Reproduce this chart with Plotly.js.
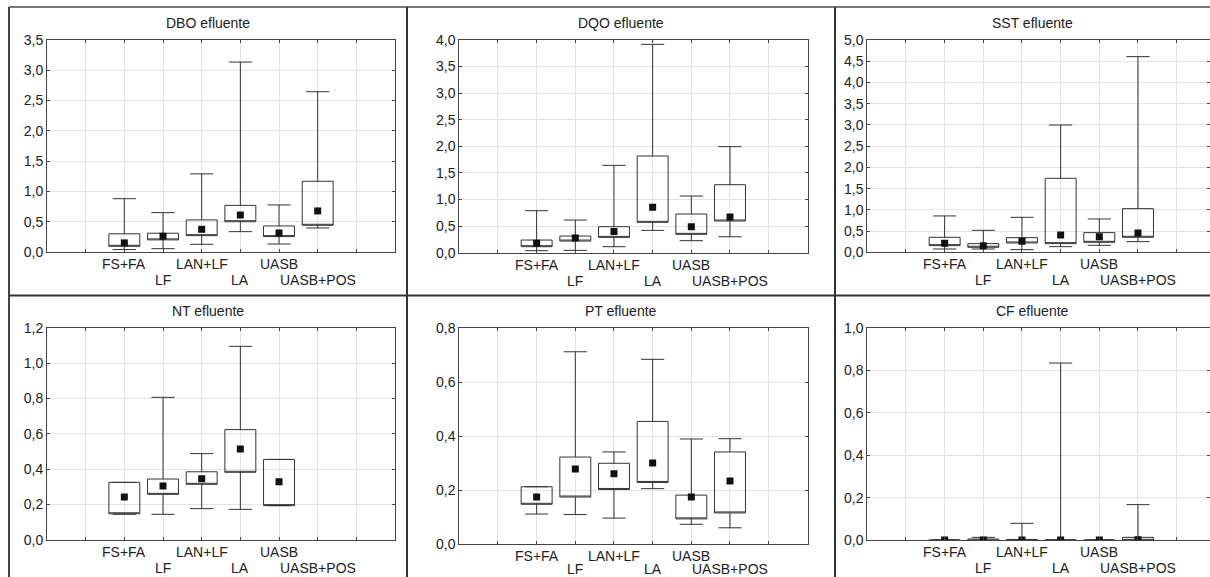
<!DOCTYPE html>
<html>
<head>
<meta charset="utf-8">
<script src="https://cdn.plot.ly/plotly-3.0.1.min.js"></script>
<style>
  html, body { margin: 0; padding: 0; background: #ffffff; }
  #chart { width: 1210px; height: 577px; }
</style>
</head>
<body>
<div id="chart"></div>
<script>
// ---------- DATA ----------
const categories = ['FS+FA', 'LF', 'LAN+LF', 'LA', 'UASB', 'UASB+POS'];

const panelTitles = ['DBO efluente', 'DQO efluente', 'SST efluente',
                     'NT efluente', 'PT efluente', 'CF efluente'];

// DBO efluente
const dboQ1  = [0.094, 0.200, 0.270, 0.500, 0.254, 0.441];
const dboQ3  = [0.300, 0.310, 0.530, 0.770, 0.430, 1.168];
const dboMed = [0.150, 0.260, 0.375, 0.610, 0.314, 0.678];
const dboMin = [0.040, 0.055, 0.127, 0.336, 0.132, 0.397];
const dboMax = [0.880, 0.650, 1.290, 3.136, 0.777, 2.646];

// DQO efluente
const dqoQ1  = [0.113, 0.219, 0.288, 0.571, 0.345, 0.596];
const dqoQ3  = [0.238, 0.313, 0.489, 1.818, 0.727, 1.279];
const dqoMed = [0.176, 0.276, 0.400, 0.853, 0.489, 0.671];
const dqoMin = [0.038, 0.044, 0.113, 0.420, 0.226, 0.300];
const dqoMax = [0.790, 0.614, 1.643, 3.918, 1.066, 1.994];

// SST efluente
const sstQ1  = [0.157, 0.118, 0.220, 0.204, 0.235, 0.353];
const sstQ3  = [0.353, 0.204, 0.345, 1.743, 0.463, 1.028];
const sstMed = [0.212, 0.157, 0.259, 0.408, 0.369, 0.455];
const sstMin = [0.078, 0.078, 0.063, 0.133, 0.165, 0.251];
const sstMax = [0.856, 0.518, 0.824, 2.998, 0.785, 4.608];

// NT efluente (no data for UASB+POS)
const ntQ1  = [0.147, 0.257, 0.314, 0.382, 0.193, null];
const ntQ3  = [0.325, 0.344, 0.385, 0.624, 0.455, null];
const ntMed = [0.242, 0.304, 0.346, 0.514, 0.329, null];
const ntMin = [0.144, 0.144, 0.176, 0.172, 0.193, null];
const ntMax = [0.325, 0.807, 0.488, 1.096, 0.455, null];

// PT efluente
const ptQ1  = [0.147, 0.174, 0.202, 0.228, 0.093, 0.115];
const ptQ3  = [0.212, 0.322, 0.299, 0.454, 0.181, 0.341];
const ptMed = [0.174, 0.278, 0.260, 0.300, 0.174, 0.233];
const ptMin = [0.111, 0.109, 0.096, 0.205, 0.073, 0.060];
const ptMax = [0.212, 0.712, 0.341, 0.684, 0.389, 0.390];

// CF efluente
const cfQ1  = [0.000, 0.000, 0.000, 0.000, 0.000, 0.000];
const cfQ3  = [0.002, 0.006, 0.004, 0.003, 0.002, 0.014];
const cfMed = [0.001, 0.002, 0.002, 0.002, 0.001, 0.003];
const cfMin = [0.000, 0.000, 0.000, 0.000, 0.000, 0.000];
const cfMax = [0.002, 0.014, 0.080, 0.835, 0.002, 0.168];

// y-axis settings per panel
const yMax   = [3.5, 4.0, 5.0, 1.2, 0.8, 1.0];
const yDtick = [0.5, 0.5, 0.5, 0.2, 0.2, 0.2];

// ---------- LAYOUT / STYLE ----------
const W = 1210, H = 577;
const FONT = 'Arial, "Liberation Sans", sans-serif';
const INK = '#222222';
const BOXLINE = '#333333';

const series = [
  [dboQ1, dboQ3, dboMed, dboMin, dboMax],
  [dqoQ1, dqoQ3, dqoMed, dqoMin, dqoMax],
  [sstQ1, sstQ3, sstMed, sstMin, sstMax],
  [ntQ1,  ntQ3,  ntMed,  ntMin,  ntMax],
  [ptQ1,  ptQ3,  ptMed,  ptMin,  ptMax],
  [cfQ1,  cfQ3,  cfMed,  cfMin,  cfMax]
];

// plot areas in pixels: [left, right, top, bottom]
const unitPx = 38.67;
const areas = [
  [47,    395,   40,  252],
  [459.3, 807.7, 40,  252.7],
  [867.3, 1210,  40,  252.3],
  [47,    395,   328, 539.7],
  [459.3, 807.7, 328, 544],
  [867.3, 1210,  328, 540.3]
];
const titleCenters = [208, 621, 1032, 208, 621, 1032];
const titleY = [23, 23, 23, 311, 311, 311];
// centre line of the two staggered label rows, in pixels below the plot bottom
const labelRowOffset = [12, 28];

const firstPos = 2;  // categories sit at x = 2..7 on a 0..9 axis
const catPos = categories.map((c, i) => i + firstPos);
const gridVals = [1, 2, 3, 4, 5, 6, 7, 8];

const traces = [];
const layout = {
  width: W, height: H,
  margin: {l: 0, r: 0, t: 0, b: 0},
  paper_bgcolor: '#ffffff',
  plot_bgcolor: '#ffffff',
  showlegend: false,
  separators: ',.',
  font: {family: FONT, size: 14, color: INK},
  annotations: [],
  shapes: []
};

series.forEach((s, p) => {
  const [q1, q3, med, mn, mx] = s;
  const idx = categories.map((c, i) => i).filter(i => q1[i] !== null);
  const xa = p === 0 ? 'x' : 'x' + (p + 1);
  const ya = p === 0 ? 'y' : 'y' + (p + 1);

  traces.push({
    type: 'box',
    xaxis: xa, yaxis: ya,
    x: idx.map(i => catPos[i]),
    q1: idx.map(i => q1[i]),
    q3: idx.map(i => q3[i]),
    // median drawn as a square marker below; box median line hidden on q1
    median: idx.map(i => q1[i]),
    lowerfence: idx.map(i => mn[i]),
    upperfence: idx.map(i => mx[i]),
    width: 0.8,
    whiskerwidth: 0.75,
    fillcolor: 'rgba(255,255,255,0)',
    line: {color: BOXLINE, width: 1},
    hoverinfo: 'skip'
  });
  traces.push({
    type: 'scatter', mode: 'markers',
    xaxis: xa, yaxis: ya,
    x: idx.map(i => catPos[i]),
    y: idx.map(i => med[i]),
    marker: {symbol: 'square', size: 7, color: '#111111'},
    hoverinfo: 'skip'
  });

  const [l, r, t, b] = areas[p];
  const key = p === 0 ? '' : String(p + 1);
  layout['xaxis' + key] = {
    domain: [l / W, r / W],
    anchor: ya,
    range: [0, (r - l) / unitPx],
    tickmode: 'array',
    tickvals: gridVals,
    ticktext: gridVals.map(() => ''),
    showgrid: true, gridcolor: '#e4e4e4', gridwidth: 1,
    zeroline: false,
    showline: true, linecolor: '#444444', linewidth: 1, mirror: 'ticks',
    ticks: 'inside', ticklen: 3, tickcolor: '#444444',
    fixedrange: true
  };
  layout['yaxis' + key] = {
    domain: [1 - b / H, 1 - t / H],
    anchor: xa,
    range: [0, yMax[p]],
    tick0: 0, dtick: yDtick[p],
    tickformat: '.1f',
    showgrid: true, gridcolor: '#e4e4e4', gridwidth: 1,
    zeroline: false,
    showline: true, linecolor: '#444444', linewidth: 1, mirror: 'ticks',
    ticks: 'inside', ticklen: 3, tickcolor: '#444444',
    tickfont: {family: FONT, size: 14, color: INK},
    fixedrange: true
  };
  layout.annotations.push({
    xref: 'paper', yref: 'paper',
    x: titleCenters[p] / W, y: 1 - titleY[p] / H,
    xanchor: 'center', yanchor: 'middle',
    text: panelTitles[p], showarrow: false,
    font: {family: FONT, size: 14, color: INK}
  });
  // staggered category labels under each plot
  categories.forEach((c, i) => {
    const rowY = Math.min(b + labelRowOffset[i % 2], 569);
    layout.annotations.push({
      xref: xa, yref: 'paper',
      x: catPos[i], y: 1 - rowY / H,
      xanchor: 'center', yanchor: 'middle',
      text: c, showarrow: false,
      font: {family: FONT, size: 14, color: INK}
    });
  });
});

// panel frame lines
function pline(x0, y0, x1, y1, color) {
  layout.shapes.push({
    type: 'line', xref: 'paper', yref: 'paper',
    x0: x0 / W, y0: 1 - y0 / H, x1: x1 / W, y1: 1 - y1 / H,
    line: {color: color, width: 2}
  });
}
pline(9, 7, 1210, 7, '#777777');
pline(9, 7, 9, 577, '#444444');
pline(407, 7, 407, 577, '#333333');
pline(835, 7, 835, 577, '#333333');
pline(9, 295.5, 1210, 295.5, '#333333');

Plotly.newPlot('chart', traces, layout, {staticPlot: true, displayModeBar: false});
</script>
</body>
</html>
